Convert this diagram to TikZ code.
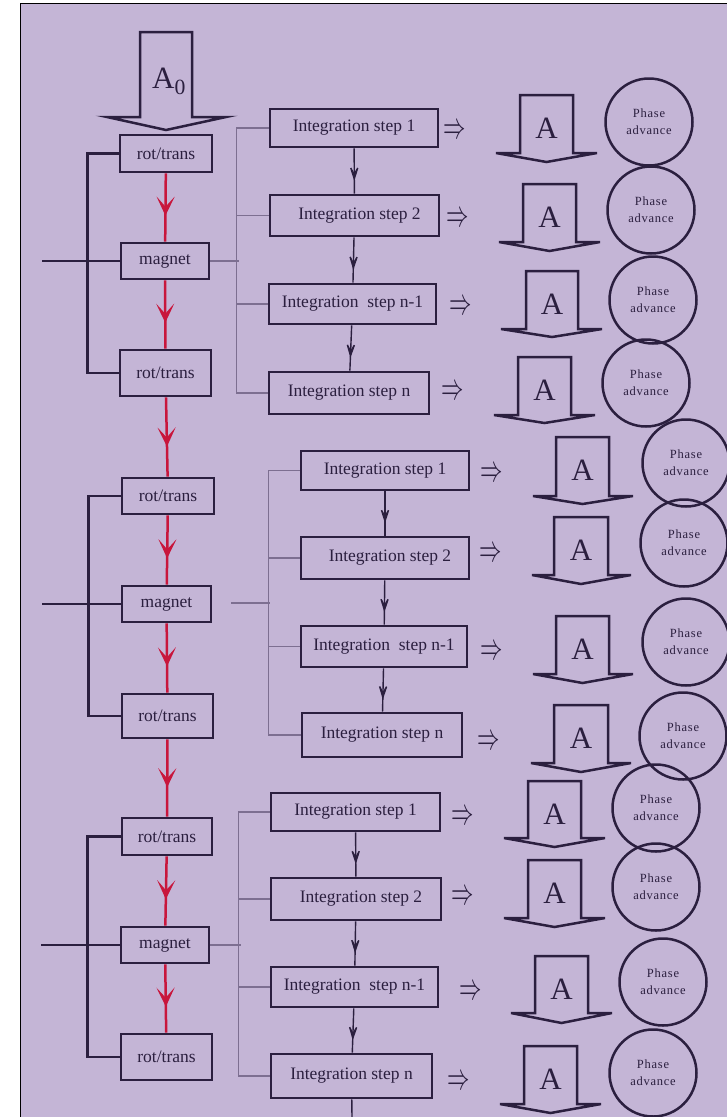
\documentclass[tikz,border=0pt]{standalone}
\usepackage{fontspec}
\setmainfont{Liberation Serif}
\newfontfamily\phasefont[LetterSpace=6]{Liberation Serif}
\usetikzlibrary{arrows.meta,decorations.markings}
\definecolor{bglav}{RGB}{196,181,214}
\definecolor{ink}{RGB}{43,31,63}
\definecolor{wire}{RGB}{125,111,145}
\definecolor{flow}{RGB}{200,22,60}

\begin{document}
\begin{tikzpicture}[x=1pt,y=-1pt,
    opbox/.style={draw=ink,line width=2.7pt,inner sep=0pt,text=ink,font=\fontsize{17.5}{21}\selectfont},
    stepbox/.style={opbox},
    phase/.style={circle,draw=ink,line width=2.5pt,minimum size=87pt,inner sep=0pt,align=center,text=ink,font=\phasefont\fontsize{12.5}{17}\selectfont},
    fatarrow/.style={draw=ink,line width=2.5pt},
    biga/.style={inner sep=0pt,text=ink,font=\fontsize{31}{31}\selectfont},
    implies/.style={inner sep=0pt,text=ink,font=\fontsize{27}{27}\selectfont},
    bracket/.style={draw=ink,line width=2.5pt},
    thinwire/.style={draw=wire,line width=1.1pt},
    flowline/.style={draw=flow,color=flow,line width=2.5pt,postaction={decorate},
        decoration={markings,mark=at position 0.62 with {\arrow{Stealth[length=19pt,width=18pt,inset=10pt]}}}},
    stepline/.style={draw=ink,color=ink,line width=1.4pt,postaction={decorate},
        decoration={markings,mark=at position 0.72 with {\arrow{Stealth[length=20pt,width=13pt,inset=12pt]}}}}]

    \useasboundingbox (0,0) rectangle (727,1117);
    \fill[white] (0,0) rectangle (727,1117);
    \fill[bglav] (20,3) rectangle (727,1117);
    \draw[black,line width=1pt] (20,1117) -- (20,3) -- (727,3);

    \draw[fatarrow] (140,32) -- (140,117) -- (107,117) -- (166,130) -- (226,117) -- (192,117) -- (192,32) -- cycle;
    \node[biga] (a0) at (169,81) {A\textsubscript{0}};

    \node[opbox,minimum width=92pt,minimum height=37pt] (rt1) at (166,153.5) {rot/trans};
    \node[opbox,minimum width=88pt,minimum height=36pt] (mg1) at (165,261) {magnet};
    \node[opbox,minimum width=91pt,minimum height=46pt] (rt2) at (165.5,373) {rot/trans};
    \node[opbox,minimum width=92pt,minimum height=36pt] (rt3) at (168,496) {rot/trans};
    \node[opbox,minimum width=89pt,minimum height=36pt] (mg2) at (166.5,604) {magnet};
    \node[opbox,minimum width=91pt,minimum height=44pt] (rt4) at (167.5,716) {rot/trans};
    \node[opbox,minimum width=90pt,minimum height=37pt] (rt5) at (167,836.5) {rot/trans};
    \node[opbox,minimum width=88pt,minimum height=36pt] (mg3) at (165,945) {magnet};
    \node[opbox,minimum width=91pt,minimum height=46pt] (rt6) at (166.5,1057) {rot/trans};

    \draw[flowline] (rt1) -- (mg1);
    \draw[flowline] (mg1) -- (rt2);
    \draw[flowline] (rt2) -- (rt3);
    \draw[flowline] (rt3) -- (mg2);
    \draw[flowline] (mg2) -- (rt4);
    \draw[flowline] (rt4) -- (rt5);
    \draw[flowline] (rt5) -- (mg3);
    \draw[flowline] (mg3) -- (rt6);

    \draw[bracket] (rt1.west) -- ++(-31,0) |- (rt2.west);
    \draw[bracket] (mg1.west) -- ++(-78,0);
    \draw[bracket] (rt3.west) -- ++(-32,0) |- (rt4.west);
    \draw[bracket] (mg2.west) -- ++(-79,0);
    \draw[bracket] (rt5.west) -- ++(-33,0) |- (rt6.west);
    \draw[bracket] (mg3.west) -- ++(-79,0);

    \node[stepbox,minimum width=168pt,minimum height=38pt] (is11) at (354,128) {Integration step 1};
    \node[stepbox,minimum width=169pt,minimum height=41pt] (is12) at (354.5,215.5) {\hspace*{10pt}Integration step 2};
    \node[stepbox,minimum width=167pt,minimum height=40pt] (is13) at (352.5,304) {Integration\ \ step n-1};
    \node[stepbox,minimum width=160pt,minimum height=42pt] (is14) at (349,393) {Integration step n};

    \node[stepbox,minimum width=168pt,minimum height=39pt] (is21) at (385,470.5) {Integration step 1};
    \node[stepbox,minimum width=168pt,minimum height=42pt] (is22) at (385,558) {\hspace*{10pt}Integration step 2};
    \node[stepbox,minimum width=166pt,minimum height=41pt] (is23) at (384,646.5) {Integration\ \ step n-1};
    \node[stepbox,minimum width=160pt,minimum height=44pt] (is24) at (382,735) {Integration step n};

    \node[stepbox,minimum width=169pt,minimum height=38pt] (is31) at (355.5,812) {Integration step 1};
    \node[stepbox,minimum width=170pt,minimum height=42pt] (is32) at (356,899) {\hspace*{10pt}Integration step 2};
    \node[stepbox,minimum width=167pt,minimum height=40pt] (is33) at (354.5,987) {Integration\ \ step n-1};
    \node[stepbox,minimum width=161pt,minimum height=44pt] (is34) at (351.5,1076) {Integration step n};

    \draw[stepline] (is11) -- (is12);
    \draw[stepline] (is12) -- (is13);
    \draw[stepline] (is13) -- (is14);
    \draw[stepline] (is21) -- (is22);
    \draw[stepline] (is22) -- (is23);
    \draw[stepline] (is23) -- (is24);
    \draw[stepline] (is31) -- (is32);
    \draw[stepline] (is32) -- (is33);
    \draw[stepline] (is33) -- (is34);
    \coordinate (tail) at (352,1117);
    \draw[draw=ink,line width=1.4pt] (is34) -- (tail);

    \draw[thinwire] (mg1.east) -- ++(29,0);
    \draw[thinwire] (is11.west) -- ++(-32,0) |- (is14.west);
    \draw[thinwire] (is12.west) -- ++(-32,0);
    \draw[thinwire] (is13.west) -- ++(-31,0);
    \coordinate (gap2) at (231,603);
    \draw[thinwire] (gap2) -- ++(39,0);
    \draw[thinwire] (is21.west) -- ++(-31,0) |- (is24.west);
    \draw[thinwire] (is22.west) -- ++(-31,0);
    \draw[thinwire] (is23.west) -- ++(-31,0);
    \draw[thinwire] (mg3.east) -- ++(31,0);
    \draw[thinwire] (is31.west) -- ++(-31,0) |- (is34.west);
    \draw[thinwire] (is32.west) -- ++(-31,0);
    \draw[thinwire] (is33.west) -- ++(-31,0);

    \node[implies] (im11) at (454.5,132) {\scalebox{0.9}[1.5]{$\Rightarrow$}};
    \node[implies] (im12) at (457.5,220) {\scalebox{0.9}[1.5]{$\Rightarrow$}};
    \node[implies] (im13) at (460.5,308) {\scalebox{0.9}[1.5]{$\Rightarrow$}};
    \node[implies] (im14) at (452.5,393) {\scalebox{0.9}[1.5]{$\Rightarrow$}};
    \node[implies] (im21) at (491.5,475) {\scalebox{0.9}[1.5]{$\Rightarrow$}};
    \node[implies] (im22) at (490.5,555) {\scalebox{0.9}[1.5]{$\Rightarrow$}};
    \node[implies] (im23) at (491.5,653) {\scalebox{0.9}[1.5]{$\Rightarrow$}};
    \node[implies] (im24) at (489,743) {\scalebox{0.9}[1.5]{$\Rightarrow$}};
    \node[implies] (im31) at (462.5,818) {\scalebox{0.9}[1.5]{$\Rightarrow$}};
    \node[implies] (im32) at (462.5,898) {\scalebox{0.9}[1.5]{$\Rightarrow$}};
    \node[implies] (im33) at (470.5,993) {\scalebox{0.9}[1.5]{$\Rightarrow$}};
    \node[implies] (im34) at (459,1083) {\scalebox{0.9}[1.5]{$\Rightarrow$}};

    \draw[fatarrow] (520,95) -- (520,153) -- (496,153) -- (546.5,162) -- (597,153) -- (573,153) -- (573,95) -- cycle;
    \draw[fatarrow] (523,184) -- (523,242) -- (499,242) -- (549.5,251) -- (600,242) -- (576,242) -- (576,184) -- cycle;
    \draw[fatarrow] (526,271) -- (526,329) -- (501,329) -- (552,337) -- (602,329) -- (578,329) -- (578,271) -- cycle;
    \draw[fatarrow] (518,357) -- (518,415) -- (494,415) -- (544.5,423) -- (595,415) -- (571,415) -- (571,357) -- cycle;
    \draw[fatarrow] (556,437) -- (556,496) -- (533,496) -- (582.5,504) -- (633,496) -- (609,496) -- (609,437) -- cycle;
    \draw[fatarrow] (554,517) -- (554,575) -- (532,575) -- (581,584) -- (631,575) -- (608,575) -- (608,517) -- cycle;
    \draw[fatarrow] (556,616) -- (556,674) -- (533,674) -- (582.5,683) -- (633,674) -- (609,674) -- (609,616) -- cycle;
    \draw[fatarrow] (554,705) -- (554,763) -- (531,763) -- (581,772) -- (631,763) -- (608,763) -- (608,705) -- cycle;
    \draw[fatarrow] (528,781) -- (528,838) -- (504,838) -- (554.5,847) -- (605,838) -- (581,838) -- (581,781) -- cycle;
    \draw[fatarrow] (528,860) -- (528,918) -- (504,918) -- (554.5,927) -- (605,918) -- (581,918) -- (581,860) -- cycle;
    \draw[fatarrow] (535,956) -- (535,1013) -- (511,1013) -- (561.5,1023) -- (612,1013) -- (588,1013) -- (588,956) -- cycle;
    \draw[fatarrow] (524,1046) -- (524,1104) -- (500,1104) -- (550.5,1113) -- (601,1104) -- (577,1104) -- (577,1046) -- cycle;

    \node[biga] (a11) at (546.5,128) {A};
    \node[biga] (a12) at (549.5,217) {A};
    \node[biga] (a13) at (552,304) {A};
    \node[biga] (a14) at (544.5,390) {A};
    \node[biga] (a21) at (582.5,470) {A};
    \node[biga] (a22) at (581,550) {A};
    \node[biga] (a23) at (582.5,649) {A};
    \node[biga] (a24) at (581,738) {A};
    \node[biga] (a31) at (554.5,814) {A};
    \node[biga] (a32) at (554.5,893) {A};
    \node[biga] (a33) at (561.5,989) {A};
    \node[biga] (a34) at (550.5,1079) {A};

    \node[phase] (ph11) at (649,122) {Phase\\advance};
    \node[phase] (ph12) at (651,210) {Phase\\advance};
    \node[phase] (ph13) at (653,300) {Phase\\advance};
    \node[phase] (ph14) at (646,383) {Phase\\advance};
    \node[phase] (ph21) at (686,463) {Phase\\advance};
    \node[phase] (ph22) at (684,543) {Phase\\advance};
    \node[phase] (ph23) at (686,642) {Phase\\advance};
    \node[phase] (ph24) at (683,736) {Phase\\advance};
    \node[phase] (ph31) at (656,808) {Phase\\advance};
    \node[phase] (ph32) at (656,887) {Phase\\advance};
    \node[phase] (ph33) at (663,982) {Phase\\advance};
    \node[phase] (ph34) at (653,1073) {Phase\\advance};
\end{tikzpicture}
\end{document}
